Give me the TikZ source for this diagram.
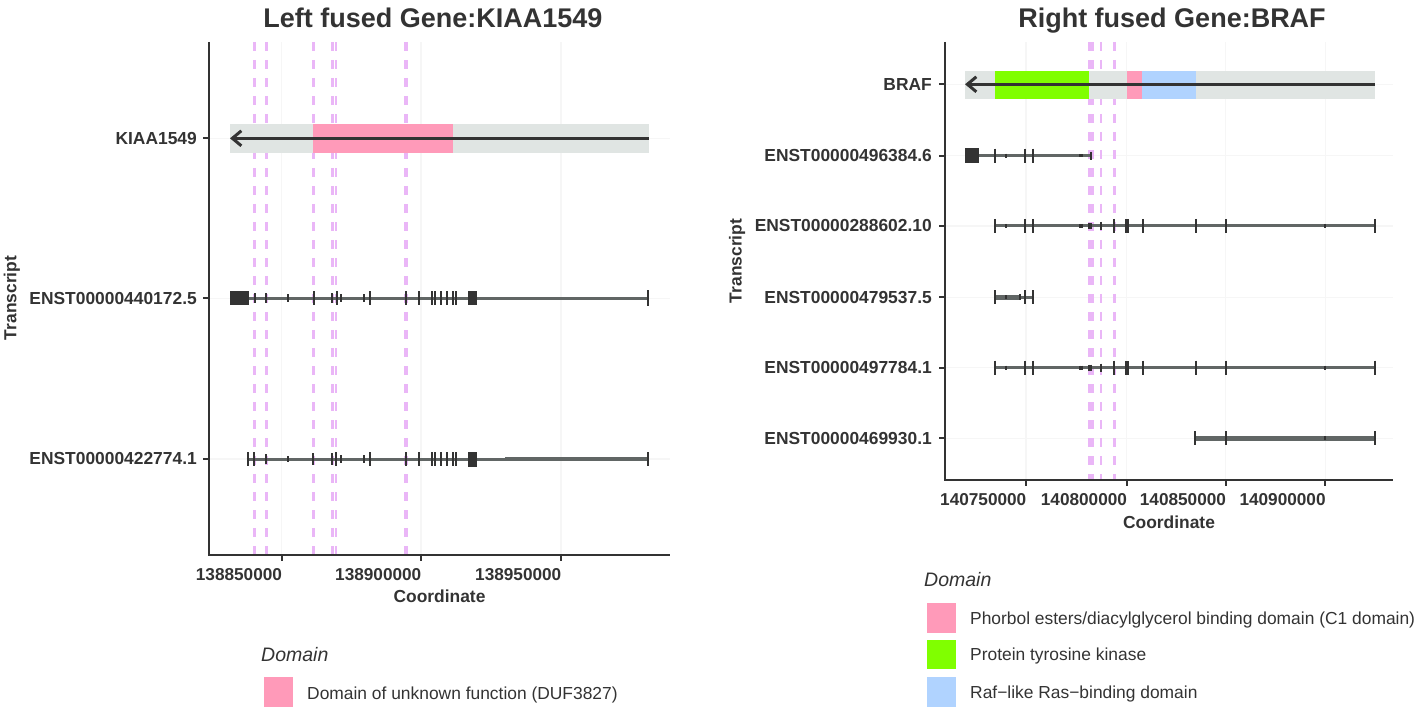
\documentclass[tikz,border=0pt]{standalone}
\usepackage{fontspec}
\setmainfont{Liberation Sans}
\usetikzlibrary{arrows.meta,positioning}
\definecolor{domainpink}{HTML}{FF9AB9}
\definecolor{kinasegreen}{HTML}{80FF00}
\definecolor{rasblue}{HTML}{B0D3FF}
\definecolor{genebar}{HTML}{E0E5E3}
\definecolor{cutline}{HTML}{EAB6F7}
\definecolor{txline}{HTML}{616665}
\definecolor{exon}{HTML}{333333}
\definecolor{gridgray}{HTML}{F6F6F6}
\definecolor{inkgray}{HTML}{333333}
\tikzset{
  titlelab/.style={anchor=base, inner sep=0, text=inkgray,
    font=\bfseries\fontsize{27}{32}\selectfont},
  rowlab/.style={anchor=east, inner sep=0, text=inkgray,
    font=\bfseries\fontsize{17.4}{20}\selectfont},
  ticklab/.style={anchor=base east, inner sep=0, text=inkgray,
    font=\bfseries\fontsize{17.2}{20}\selectfont},
  axislab/.style={anchor=base, inner sep=0, text=inkgray,
    font=\bfseries\fontsize{17.4}{20}\selectfont},
  legtitle/.style={anchor=base west, inner sep=0, text=inkgray,
    font=\itshape\fontsize{19.5}{23}\selectfont},
  legtext/.style={anchor=base west, inner sep=0, text=inkgray,
    font=\fontsize{17.4}{20}\selectfont},
  axisline/.style={draw=inkgray, line width=1.8},
  gridline/.style={draw=gridgray, line width=1.2},
  cutmark/.style={draw=cutline, dash pattern=on 9pt off 9pt},
  txbody/.style={draw=txline, line width=3},
  exontick/.style={draw=exon, line width=1.8},
  genearrow/.style={draw=exon, line width=3,
    -{Straight Barb[length=9pt,width=15pt]}},
}
\begin{document}
\begin{tikzpicture}[x=1pt,y=-1pt]
\useasboundingbox (0,0) rectangle (1419,711);

% left fused gene
\foreach \x in {281.7,421,561}
  \draw[gridline] (\x,42) -- (\x,555);
\foreach \y in {138.3,298.3,459}
  \draw[gridline] (209,\y) -- (670,\y);
\foreach \x/\w in {254.3/2.4,266.3/2.4,313.3/2.4,332.3/2.4,336/2.4,406/4}
  \draw[cutmark, line width=\w] (\x,42) -- (\x,555);

\fill[genebar] (230,124) rectangle (649,152.7);
\fill[domainpink] (313,124) rectangle (452.7,152.7);
\draw[genearrow] (649,138.3) -- (230,138.3);

% ENST00000440172.5
\draw[txbody] (230,298.3) -- (648.3,298.3);
\fill[exon] (230,291.3) rectangle (248.7,305.3);
\fill[exon] (468,291.3) rectangle (476.7,305.3);
\foreach \x/\h in {254.7/5,266.3/5,288.3/4,313.7/7,332.3/5,336.7/7,341.3/4,
    364.3/4,370/7,406/7,419/7,432/7,435.3/7,441.3/7,447/7,452.7/7,456/7,648.3/8}
  \draw[exontick] (\x,{298.3-\h}) -- (\x,{298.3+\h});

% ENST00000422774.1
\draw[txbody] (246.7,459) -- (648,459);
\draw[txbody, line width=4.5] (505,459) -- (648,459);
\fill[exon] (468,451.5) rectangle (476.7,466.5);
\foreach \x/\h in {247.7/7,254/7,265.7/5,287.7/3,313.3/6,332.3/6,336/7,341/4,
    363.7/4,370/7,406/7,419/7,432/7,435.3/7,441.3/7,447/7,452.7/7,456/7,648/7}
  \draw[exontick] (\x,{459-\h}) -- (\x,{459+\h});

\draw[axisline] (209,42) -- (209,555) -- (670,555);
\foreach \y in {138.3,298.3,459}
  \draw[axisline] (203,\y) -- (209,\y);
\foreach \x in {281.7,421,561}
  \draw[axisline] (\x,555) -- (\x,561);

\node[titlelab] (lefttitle) at (433,28) {Left fused Gene:KIAA1549};
\node[rowlab] (lrow1) at (197,138.3) {KIAA1549};
\node[rowlab] (lrow2) at (197,298.3) {ENST00000440172.5};
\node[rowlab] (lrow3) at (197,459) {ENST00000422774.1};
\foreach \x/\t [count=\i] in {281.7/138850000,421/138900000,561/138950000}
  \node[ticklab] (ltick\i) at (\x+0.5,580) {\t};
\node[axislab] (lxlab) at (439.5,602) {Coordinate};
\node[axislab, anchor=center, rotate=90] (lylab) at (12,298) {Transcript};

\node[legtitle] (llegtitle) at (261,661.5) {Domain};
\fill[domainpink] (264,677) rectangle (292.7,706.7);
\node[legtext] (llegdom) at (307,699) {Domain of unknown function (DUF3827)};

% right fused gene
\foreach \x in {1026,1126.7,1225.7,1325.3}
  \draw[gridline] (\x,42) -- (\x,480);
\foreach \y in {84.3,155.7,226,297.3,367.7,438.3}
  \draw[gridline] (945,\y) -- (1393,\y);
\foreach \x in {1089.3,1092.3,1101,1114.3}
  \draw[cutmark, line width=2.4] (\x,42) -- (\x,480);

\fill[genebar] (965,71) rectangle (1375,99);
\fill[kinasegreen] (995,71) rectangle (1089,99);
\fill[domainpink] (1127.3,71) rectangle (1142,99);
\fill[rasblue] (1142,71) rectangle (1195.7,99);
\draw[genearrow] (1375,84.3) -- (965,84.3);

% ENST00000496384.6
\draw[txbody] (979,155.7) -- (1092,155.7);
\fill[exon] (965,148.2) rectangle (979,163.2);
\foreach \x/\h in {995.3/7,1006/2,1025/7,1080/1.5,1082/1.5,1091/4}
  \draw[exontick] (\x,{155.7-\h}) -- (\x,{155.7+\h});
\draw[exontick, line width=2.8] (1033,148.7) -- (1033,162.7);

% ENST00000288602.10 and ENST00000497784.1
\foreach \ty in {226,367.7} {
  \draw[txbody] (995,\ty) -- (1375,\ty);
  \foreach \x/\h in {995/7,1006/2,1025/7,1080/2,1082/2,1089/3,1091/3,1101/4,
      1114/7,1142.7/7,1195.7/7,1226/7,1325.3/2,1375/7}
    \draw[exontick] (\x,{\ty-\h}) -- (\x,{\ty+\h});
  \draw[exontick, line width=2.8] (1033,{\ty-7}) -- (1033,{\ty+7});
  \fill[exon] (1125,{\ty-7}) rectangle (1129,{\ty+7});
}

% ENST00000479537.5
\draw[txbody] (995,297.3) -- (1033,297.3);
\draw[txbody, line width=4.5] (995,297.3) -- (1020,297.3);
\foreach \x/\h in {995/7,1006/2,1020/3,1025/7}
  \draw[exontick] (\x,{297.3-\h}) -- (\x,{297.3+\h});
\draw[exontick, line width=2.8] (1033,290.3) -- (1033,304.3);

% ENST00000469930.1
\draw[txbody, line width=4.5] (1195,438.3) -- (1375,438.3);
\foreach \x/\h in {1226/7,1325/2,1375/7}
  \draw[exontick] (\x,{438.3-\h}) -- (\x,{438.3+\h});
\draw[exontick, line width=2.8] (1195,431.3) -- (1195,445.3);

\draw[axisline] (945,42) -- (945,480) -- (1393,480);
\foreach \y in {84.3,155.7,226,297.3,367.7,438.3}
  \draw[axisline] (939,\y) -- (945,\y);
\foreach \x in {1026,1126.7,1225.7,1325.3}
  \draw[axisline] (\x,480) -- (\x,486);

\node[titlelab] (righttitle) at (1172,28) {Right fused Gene:BRAF};
\node[rowlab] (rrow1) at (932,84.3) {BRAF};
\node[rowlab] (rrow2) at (932,155.7) {ENST00000496384.6};
\node[rowlab] (rrow3) at (932,226) {ENST00000288602.10};
\node[rowlab] (rrow4) at (932,297.3) {ENST00000479537.5};
\node[rowlab] (rrow5) at (932,367.7) {ENST00000497784.1};
\node[rowlab] (rrow6) at (932,438.3) {ENST00000469930.1};
\foreach \x/\t [count=\i] in {1026/140750000,1126.7/140800000,
    1225.7/140850000,1325.3/140900000}
  \node[ticklab] (rtick\i) at (\x+0.5,505) {\t};
\node[axislab] (rxlab) at (1169,528) {Coordinate};
\node[axislab, anchor=center, rotate=90] (rylab) at (737,261) {Transcript};

\node[legtitle] (rlegtitle) at (924,586.7) {Domain};
\fill[domainpink] (927.3,602.7) rectangle (955.7,632.7);
\fill[kinasegreen] (927.3,640) rectangle (955.7,669);
\fill[rasblue] (927.3,677) rectangle (955.7,706.7);
\node[legtext] (rlegc1) at (970,624) {Phorbol esters/diacylglycerol binding domain (C1 domain)};
\node[legtext] (rlegkin) at (970,660.5) {Protein tyrosine kinase};
\node[legtext] (rlegras) at (970,698) {Raf\textminus like Ras\textminus binding domain};
\end{tikzpicture}
\end{document}
